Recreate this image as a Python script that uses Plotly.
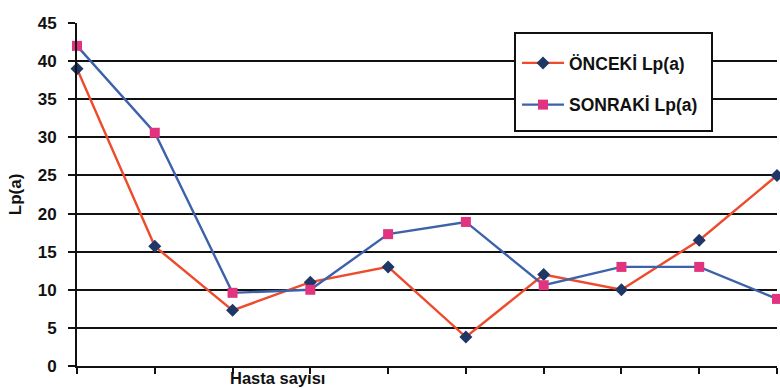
import plotly.graph_objects as go

# Patient index along the x axis (unlabelled ticks)
patients = [1, 2, 3, 4, 5, 6, 7, 8, 9, 10]

# Lp(a) levels before and after
onceki = [39, 15.7, 7.3, 11, 13, 3.8, 12, 10, 16.5, 25]
sonraki = [42, 30.6, 9.6, 10, 17.3, 18.9, 10.6, 13, 13, 8.8]

y_ticks = [0, 5, 10, 15, 20, 25, 30, 35, 40, 45]

FONT = "Liberation Sans, Arial, sans-serif"
INK = "#111"

# plot area in pixels, used to place the legend frame
L, R, T, B = 77, 777, 23, 366
def px_x(p):
    return (p - L) / (R - L)
def px_y(p):
    return (B - p) / (B - T)

fig = go.Figure()
fig.add_trace(go.Scatter(
    x=patients, y=onceki, name="ÖNCEKİ Lp(a)", mode="lines+markers",
    line=dict(color="#ee4a2c", width=2.4),
    marker=dict(symbol="diamond", size=10, color="#1e3766"),
    cliponaxis=False, legendgroup="a",
))
fig.add_trace(go.Scatter(
    x=patients, y=sonraki, name="SONRAKİ Lp(a)", mode="lines+markers",
    line=dict(color="#3d62aa", width=2.4),
    marker=dict(symbol="square", size=10, color="#e2347e"),
    cliponaxis=False, legendgroup="b",
))

fig.update_layout(
    width=780, height=388,
    margin=dict(l=L, r=780 - R, t=T, b=388 - B),
    paper_bgcolor="white", plot_bgcolor="white",
    font=dict(family=FONT, size=14, color=INK),
    showlegend=True,
    legend=dict(
        x=px_x(517), y=px_y(45), xanchor="left", yanchor="top",
        borderwidth=0, bgcolor="rgba(0,0,0,0)",
        font=dict(family=FONT, size=17.5, color=INK, weight="bold"),
        tracegroupgap=16, itemwidth=42,
    ),
    shapes=[dict(
        type="rect", xref="paper", yref="paper", layer="above",
        x0=px_x(515), x1=px_x(712), y0=px_y(131), y1=px_y(33),
        line=dict(color=INK, width=2), fillcolor="white",
    )],
    xaxis=dict(
        range=[1, 10], tickvals=patients, showticklabels=False,
        ticks="outside", ticklen=6, tickwidth=1.5, tickcolor=INK,
        showline=True, linecolor=INK, linewidth=2, showgrid=False,
        zeroline=False,
    ),
    yaxis=dict(
        range=[0, 45], tickvals=y_ticks, ticks="outside", ticklen=7,
        tickwidth=1.5, tickcolor=INK, ticklabelstandoff=8,
        tickfont=dict(family=FONT, size=17, color=INK, weight="bold"),
        showline=True, linecolor=INK, linewidth=2,
        showgrid=True, gridcolor=INK, gridwidth=1.7, zeroline=False,
        title=dict(text="Lp(a)", standoff=12,
                   font=dict(family=FONT, size=17, color=INK, weight="bold")),
    ),
    annotations=[dict(
        text="Hasta sayısı", xref="paper", yref="paper",
        x=px_x(229), y=px_y(388), xanchor="left", yanchor="bottom",
        showarrow=False, borderpad=0,
        font=dict(family=FONT, size=16.5, color=INK, weight="bold"),
    )],
)

fig.write_html("out.html")
